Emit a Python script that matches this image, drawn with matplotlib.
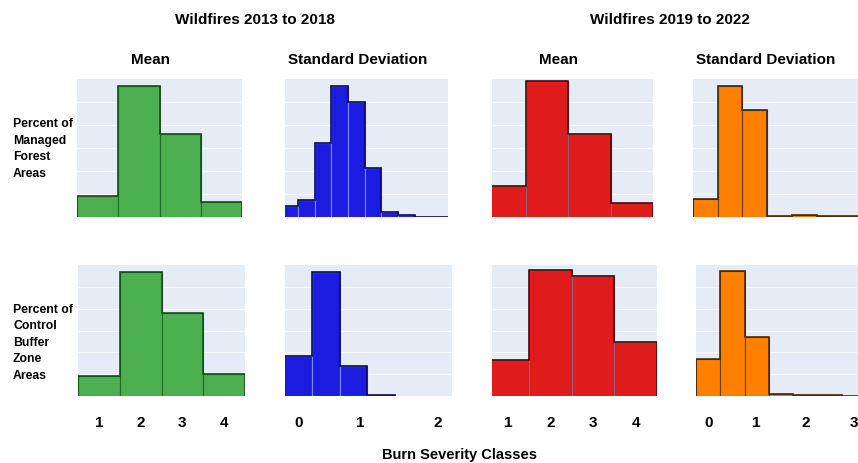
import matplotlib.pyplot as plt
import numpy as np

plt.rcParams['font.family'] = ['Liberation Sans', 'DejaVu Sans']

W, H = 858, 464

# bin centres
mean_bins = [1, 2, 3, 4]
sd_bins_managed_2013 = [0.0, 0.2, 0.4, 0.6, 0.8, 1.0, 1.2, 1.4, 1.6, 1.8]
sd_bins_buffer_2013 = [0.0, 0.45, 0.9, 1.35]
sd_bins_2019 = [0.0, 0.5, 1.0, 1.5, 2.0, 2.5, 3.0]

# percent of area in each bin
managed_mean_2013 = [8.4, 52.4, 33.2, 6.0]
managed_sd_2013 = [2.7, 4.2, 18.2, 32.4, 28.5, 12.1, 1.3, 0.5, 0.0, 0.1]
managed_mean_2019 = [11.8, 51.6, 31.4, 5.2]
managed_sd_2019 = [7.1, 50.4, 41.1, 0.4, 0.6, 0.3, 0.2]
buffer_mean_2013 = [8.0, 49.8, 33.2, 9.0]
buffer_sd_2013 = [20.6, 63.8, 15.4, 0.3]
buffer_mean_2019 = [10.7, 37.5, 35.7, 16.1]
buffer_sd_2019 = [16.6, 55.4, 26.2, 0.7, 0.4, 0.4, 0.2]

green = ('#4caf50', '#1f6b2a', '#1b4d1f')
blue = ('#1c1ce0', '#7f86ff', '#0a0a5a')
red = ('#e01b1b', '#8a5f7a', '#4a0808')
orange = ('#ff8000', '#6b3a10', '#4a2a08')

fig = plt.figure(figsize=(W / 100, H / 100), dpi=100)


def px_box(x0, x1, y0, y1):
    return [x0 / W, 1 - y1 / H, (x1 - x0) / W, (y1 - y0) / H]


def hist_panel(box, bins, vals, width, cols, xlim, ymax, ticks=None, labels=None):
    ax = fig.add_axes(px_box(*box))
    ax.set_facecolor('#e5ecf6')
    for s in ax.spines.values():
        s.set_visible(False)
    ax.set_axisbelow(True)
    ax.grid(axis='y', color='#f7f9fd', lw=0.8)
    ax.set_yticks(np.linspace(0, ymax, 7)[1:-1])
    ax.bar(bins, vals, width=width, color=cols[0], edgecolor=cols[1], lw=0.8)
    edges = np.append(np.array(bins) - width / 2, bins[-1] + width / 2)
    ax.stairs(vals, edges, baseline=0, color=cols[2], lw=1.2)
    ax.set_xlim(*xlim)
    ax.set_ylim(0, ymax)
    ax.tick_params(length=0, labelleft=False, pad=14)
    if ticks is None:
        ax.set_xticks([])
    else:
        ax.set_xticks(ticks)
        ax.set_xticklabels(labels, fontsize=11, fontweight='bold')
    return ax


# top row: managed forest areas
hist_panel((77, 242, 80, 218), mean_bins, managed_mean_2013, 1, green, (0.5, 4.5), 55.2)
hist_panel((285, 448, 80, 218), sd_bins_managed_2013, managed_sd_2013, 0.2, blue, (-0.057, 1.9), 34.1)
hist_panel((492, 653, 80, 218), mean_bins, managed_mean_2019, 1, red, (0.7, 4.5), 52.4)
hist_panel((693, 866, 80, 218), sd_bins_2019, managed_sd_2019, 0.5, orange, (-0.25, 3.25), 53.1)

# bottom row: control buffer zones
hist_panel((78, 245, 266, 397), mean_bins, buffer_mean_2013, 1, green, (0.5, 4.5), 52.4,
           [1, 2, 3, 4], ['1', '2', '3', '4'])
# the "2" label sits right of its value in the source figure
hist_panel((285, 452, 266, 397), sd_bins_buffer_2013, buffer_sd_2013, 0.45, blue, (-0.225, 2.51), 67.4,
           [0, 1, 2.28], ['0', '1', '2'])
hist_panel((492, 657, 266, 397), mean_bins, buffer_mean_2019, 1, red, (0.625, 4.5), 39.0,
           [1, 2, 3, 4], ['1', '2', '3', '4'])
hist_panel((696, 866, 266, 397), sd_bins_2019, buffer_sd_2019, 0.5, orange, (-0.25, 3.25), 58.2,
           [0, 1, 2, 3], ['0', '1', '2', '3'])


def ftext(x, y, s, **kw):
    fig.text(x / W, 1 - y / H, s, fontweight='bold', **kw)


ftext(255, 20, 'Wildfires 2013 to 2018', fontsize=11, ha='center', va='center')
ftext(670, 20, 'Wildfires 2019 to 2022', fontsize=11, ha='center', va='center')
ftext(150, 60, 'Mean', fontsize=11, ha='center', va='center')
ftext(358, 60, 'Standard Deviation', fontsize=11, ha='center', va='center')
ftext(558, 60, 'Mean', fontsize=11, ha='center', va='center')
ftext(766, 60, 'Standard Deviation', fontsize=11, ha='center', va='center')
ftext(13, 149, 'Percent of\nManaged\nForest\nAreas', fontsize=8.8, ha='left', va='center', linespacing=1.5)
ftext(13, 343, 'Percent of\nControl\nBuffer\nZone\nAreas', fontsize=8.8, ha='left', va='center', linespacing=1.5)
ftext(459, 455, 'Burn Severity Classes', fontsize=10.5, ha='center', va='center')

fig.savefig('out.png', dpi=100)
